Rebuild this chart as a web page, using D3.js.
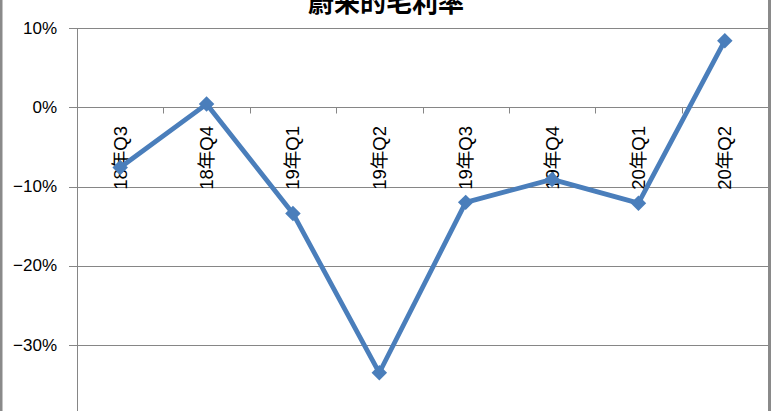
<!DOCTYPE html>
<html><head><meta charset="utf-8">
<script src="https://cdn.jsdelivr.net/npm/d3@7"></script>
<style>html,body{margin:0;padding:0;background:#fff;overflow:hidden}</style>
</head><body>
<svg id="c" width="772" height="411"></svg>
<script>
const title = "蔚来的毛利率";
const categories = ["18年Q3","18年Q4","19年Q1","19年Q2","19年Q3","19年Q4","20年Q1","20年Q2"];
const grossMargin = [-0.076, 0.004, -0.134, -0.335, -0.120, -0.091, -0.121, 0.084];
const yTicks = [0.1, 0, -0.1, -0.2, -0.3, -0.4];

(function(){
const svg = d3.select("#c");
const W = 772, H = 411;
const pLeft = 77, pRight = 768, pTop = 28;
const x = d3.scaleBand().domain(categories).range([pLeft, pRight]);
const y = d3.scaleLinear().domain([-0.4, 0.1]).range([424.3, pTop]);
const grid = "#868686";
const blue = "#4A7EBB";

// chart borders
svg.append("rect").attr("x",0).attr("y",0).attr("width",2.5).attr("height",H).attr("fill","#8a8a8a");
svg.append("rect").attr("x",768).attr("y",0).attr("width",3).attr("height",H).attr("fill","#8a8a8a");

// gridlines
svg.append("g").selectAll("line").data(yTicks).join("line")
  .attr("x1", 69).attr("x2", pRight)
  .attr("y1", d => Math.round(y(d)) + 0.5).attr("y2", d => Math.round(y(d)) + 0.5)
  .attr("stroke", grid).attr("stroke-width", 1);

// y axis line
svg.append("line").attr("x1", pLeft + 0.5).attr("x2", pLeft + 0.5)
  .attr("y1", pTop).attr("y2", H).attr("stroke", grid);

// y labels
svg.append("g").selectAll("text").data(yTicks).join("text")
  .attr("x", 57).attr("y", d => y(d))
  .attr("text-anchor", "end").attr("dominant-baseline", "central")
  .attr("font-family", "Liberation Sans, Arial, sans-serif").attr("font-size", 17)
  .attr("fill", "#000")
  .text(d => d3.format(".0%")(d));

// x-axis ticks at category boundaries on 0% line
const y0 = Math.round(y(0)) + 0.5;
const bounds = categories.map(c => x(c)).concat([pRight]);
svg.append("g").selectAll("line").data(bounds.slice(1, -1)).join("line")
  .attr("x1", d => Math.round(d) + 0.5).attr("x2", d => Math.round(d) + 0.5)
  .attr("y1", y0).attr("y2", y0 + 6).attr("stroke", grid);

// category labels (rotated)
svg.append("g").selectAll("text").data(categories).join("text")
  .attr("transform", d => `translate(${x(d) + x.bandwidth()/2},126) rotate(-90)`)
  .attr("text-anchor", "end").attr("dominant-baseline", "central")
  .attr("font-family", "Liberation Sans, 'Noto Sans CJK SC', sans-serif").attr("font-size", 18.5)
  .attr("fill", "#000")
  .text(d => d);

// line
const pts = categories.map((c, i) => [x(c) + x.bandwidth()/2, y(grossMargin[i])]);
svg.append("path").attr("d", d3.line()(pts))
  .attr("fill", "none").attr("stroke", blue).attr("stroke-width", 4.8)
  .attr("stroke-linejoin", "round");

// markers
svg.append("g").selectAll("path").data(pts).join("path")
  .attr("d", d3.symbol(d3.symbolSquare, 120)())
  .attr("transform", d => `translate(${d[0]},${d[1]}) rotate(45)`)
  .attr("fill", blue);

// title
svg.append("text").attr("x", 386).attr("y", 12)
  .attr("text-anchor", "middle")
  .attr("font-family", "'Noto Sans CJK SC', sans-serif").attr("font-weight", "bold")
  .attr("font-size", 26).attr("fill", "#000")
  .text(title);
})();
</script>
</body></html>
